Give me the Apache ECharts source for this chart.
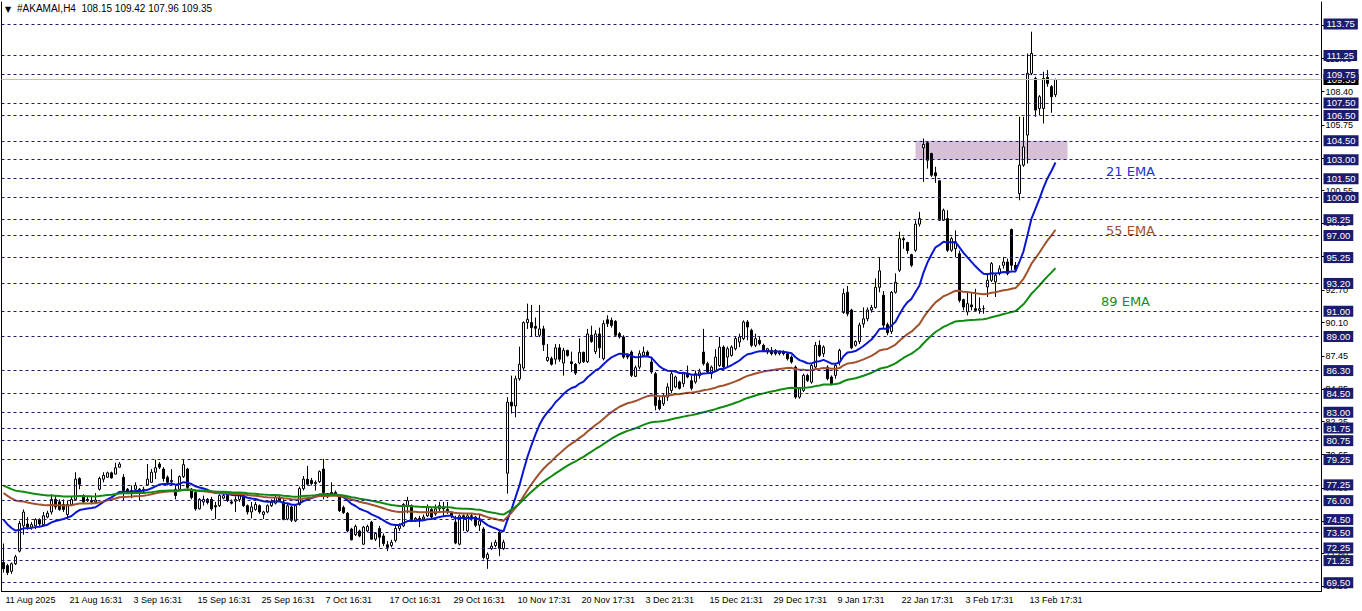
<!DOCTYPE html>
<html><head><meta charset="utf-8">
<script src="https://cdn.jsdelivr.net/npm/echarts@6/dist/echarts.min.js"></script>
<style>html,body{margin:0;padding:0;background:#fff}#c{width:1362px;height:611px}</style>
</head><body><div id="c"></div>
<script>
const titleText = '#AKAMAI,H4  108.15 109.42 107.96 109.35';
const tickLabels = ['11 Aug 2025','21 Aug 16:31','3 Sep 16:31','15 Sep 16:31','25 Sep 16:31','7 Oct 16:31','17 Oct 16:31','29 Oct 16:31','10 Nov 17:31','20 Nov 17:31','3 Dec 21:31','15 Dec 21:31','29 Dec 17:31','9 Jan 17:31','22 Jan 17:31','3 Feb 17:31','13 Feb 17:31'];
const barsPerTick = 16;
const slotCount = 330;
// [open, high, low, close]
const candles = [
[71.1,72.6,70.3,70.6],[70.85,71.0,70.1,70.3],[70.4,71.1,70.2,71.0],[71.0,71.7,70.9,71.55],[72.0,74.4,71.9,74.2],
[74.0,75.3,73.3,75.1],[74.15,74.7,73.7,73.9],[73.9,74.3,73.7,74.1],[74.0,74.6,73.75,74.5],[74.5,74.6,74.0,74.15],
[74.1,75.1,74.0,74.8],[74.7,75.2,74.6,75.0],[75.1,76.5,74.9,76.1],[76.1,76.4,75.3,75.5],[75.9,76.1,75.2,75.3],
[75.7,76.1,75.1,75.3],[74.9,76.0,74.55,75.7],[75.7,76.3,75.6,76.1],[76.1,78.25,76.0,77.7],[77.75,77.85,76.9,77.3],
[76.4,76.5,75.8,75.9],[76.1,76.3,75.9,76.0],[76.0,76.3,75.7,75.9],[75.9,76.6,75.8,76.05],[76.9,77.9,76.8,77.75],
[77.7,78.25,77.45,78.0],[77.85,78.3,77.8,78.2],[78.2,78.3,77.75,77.8],[78.1,79.0,78.1,78.6],[78.65,79.05,78.6,78.9],
[77.85,78.1,76.0,76.8],[76.9,77.0,76.6,76.7],[76.6,77.2,76.2,76.8],[76.9,77.45,76.7,77.2],[76.9,77.0,76.0,76.8],
[76.8,77.1,76.6,76.9],[77.25,78.9,77.2,77.7],[77.45,78.5,77.4,78.25],[78.25,79.25,77.7,78.6],[78.9,79.05,78.5,78.65],
[78.5,78.65,77.5,77.75],[77.85,78.0,77.2,77.45],[77.5,78.5,77.2,77.6],[76.9,77.2,76.1,76.4],[76.9,78.0,76.8,77.9],
[77.9,79.3,77.8,78.85],[78.5,78.6,76.9,77.05],[76.9,77.0,76.1,76.25],[76.65,76.8,75.2,75.35],[75.35,76.2,75.3,76.1],
[75.9,76.4,75.6,76.1],[76.1,76.2,75.7,75.85],[76.1,76.3,75.2,75.35],[75.6,75.9,74.55,75.5],[75.6,76.5,75.5,76.4],
[76.2,76.7,76.1,76.4],[76.4,76.5,75.9,76.0],[75.9,76.1,75.7,75.8],[75.95,76.35,75.1,76.1],[76.1,76.5,75.9,76.4],
[76.4,76.5,75.5,75.6],[75.6,75.7,74.9,75.1],[75.1,75.9,74.6,75.5],[75.3,75.9,75.2,75.7],[75.6,75.7,74.95,75.1],
[74.9,75.2,74.55,75.1],[75.1,75.7,75.0,75.6],[75.6,76.1,75.5,75.85],[75.8,76.4,75.7,76.25],[76.25,76.4,75.9,76.0],
[75.9,76.1,74.45,74.5],[74.55,75.8,74.45,75.6],[75.5,75.6,74.3,74.45],[74.4,75.7,74.3,75.6],[75.7,77.1,75.6,76.95],
[76.95,77.95,76.8,77.7],[77.7,78.75,77.2,77.3],[77.6,77.8,77.2,77.35],[77.35,77.6,76.8,77.45],[77.5,78.4,77.4,78.3],
[78.5,79.3,76.1,76.65],[76.55,76.6,76.2,76.3],[76.5,77.45,76.4,76.65],[76.65,76.8,76.4,76.55],[76.4,76.5,75.1,75.2],
[75.45,75.6,74.95,75.05],[75.0,75.1,73.5,73.6],[73.75,73.85,72.85,72.9],[73.3,74.1,73.2,73.95],[73.6,73.7,73.1,73.2],
[72.55,74.0,72.5,73.9],[73.6,74.1,73.5,73.95],[74.3,74.4,72.9,72.95],[72.95,73.5,72.8,73.4],[73.8,74.0,72.3,73.1],
[73.2,73.4,72.4,72.6],[72.5,72.8,72.0,72.3],[72.45,72.9,72.3,72.7],[72.85,74.1,72.7,73.8],[73.8,74.2,73.6,74.0],
[74.0,75.8,73.9,75.7],[75.6,76.3,75.0,76.0],[75.6,75.7,74.3,74.4],[74.4,74.7,74.3,74.6],[74.6,74.8,73.9,74.5],
[74.55,74.9,74.4,74.7],[74.8,75.7,74.7,75.45],[75.3,75.4,74.6,74.7],[74.95,75.7,74.8,75.35],[75.35,75.9,75.1,75.6],
[75.5,75.9,74.8,75.35],[75.3,75.9,74.95,75.1],[75.0,75.1,74.6,74.8],[74.3,74.8,72.55,72.65],[72.55,74.9,72.45,74.8],
[74.8,74.9,73.6,74.6],[73.6,74.95,73.5,74.8],[74.8,74.95,74.4,74.75],[74.7,74.8,73.9,74.05],[74.05,74.9,73.6,74.4],
[73.75,73.9,71.35,71.5],[71.4,71.9,70.6,71.75],[72.2,72.7,72.1,72.4],[72.45,72.9,72.3,72.7],[73.5,73.6,71.6,72.2],
[72.2,72.9,72.1,72.7],[78.17,84.2,76.55,83.8],[83.8,85.9,82.9,83.5],[83.5,85.9,82.6,85.65],[85.65,88.2,85.5,86.8],
[86.5,90.2,86.3,90.1],[90.1,91.6,89.6,90.35],[90.1,91.5,89.0,89.7],[89.8,90.5,89.0,89.65],[89.1,91.5,88.95,89.6],
[89.6,89.85,87.85,88.35],[87.1,88.4,87.0,87.35],[87.25,87.4,86.7,86.8],[87.2,88.4,86.8,88.1],[88.1,88.4,87.0,87.2],
[86.9,88.1,85.9,87.9],[87.9,87.95,87.4,87.5],[87.0,87.8,86.2,86.85],[86.8,86.9,85.95,86.1],[86.9,88.85,86.8,87.75],
[87.75,87.8,86.9,87.0],[87.0,89.6,86.9,89.2],[89.1,89.85,88.5,88.6],[87.8,89.5,87.6,89.2],[89.2,89.7,87.3,88.1],
[87.24,90.28,87.11,90.02],[90.33,90.68,89.75,90.02],[90.28,90.5,89.7,89.88],[90.2,90.3,89.0,89.1],[89.22,89.36,88.83,88.96],
[88.96,89.1,87.24,87.37],[87.5,87.6,87.2,87.37],[87.77,87.9,85.79,85.92],[85.84,86.7,85.8,86.53],[86.58,87.9,86.4,87.64],
[87.5,88.2,87.4,87.77],[87.77,87.9,87.4,87.5],[86.98,87.4,86.05,86.19],[86.05,86.19,83.15,83.54],[83.94,84.2,83.15,83.28],
[83.67,84.5,83.5,84.33],[84.2,85.3,83.9,85.0],[84.73,86.2,84.5,86.05],[85.0,85.9,84.9,85.79],[85.4,85.5,84.8,84.9],
[85.26,86.2,85.0,86.05],[86.05,86.7,85.7,85.8],[85.5,85.9,84.73,84.9],[85.4,86.3,85.26,86.05],[85.9,86.45,85.66,86.2],
[87.77,89.6,86.7,86.85],[86.85,87.0,86.05,86.19],[86.05,86.7,85.66,86.58],[86.31,88.0,86.2,87.37],[86.7,88.96,86.6,88.16],
[88.16,88.3,86.45,86.58],[87.37,88.2,86.6,88.03],[87.5,88.3,87.4,88.16],[88.03,88.96,87.9,88.83],[88.56,89.22,88.16,88.96],
[88.83,90.28,88.7,90.15],[90.15,90.3,88.7,89.75],[89.49,89.62,88.16,88.3],[88.3,89.22,88.16,88.83],[88.7,88.96,88.3,88.43],
[88.3,88.43,87.77,87.9],[87.77,88.1,87.6,88.03],[87.9,88.16,87.5,87.64],[87.9,88.0,87.5,87.64],[87.64,87.9,87.5,87.77],
[87.77,87.9,87.5,87.64],[87.64,87.77,87.1,87.24],[87.37,87.5,86.85,86.98],[86.58,86.7,84.07,84.2],[84.2,85.0,84.07,84.86],
[84.73,86.05,84.6,85.92],[85.92,86.05,85.4,85.52],[85.39,86.85,85.26,86.71],[86.58,88.56,86.45,88.3],[88.3,88.7,87.37,87.5],
[87.64,88.3,87.37,88.16],[86.58,86.71,85.52,85.66],[85.79,85.92,85.13,85.26],[85.92,86.85,85.66,86.71],[86.98,88.03,86.71,87.9],
[90.9,92.8,90.8,92.4],[92.5,93.0,90.6,90.8],[91.1,91.2,88.0,88.1],[88.3,88.7,88.2,88.6],[88.6,90.1,88.4,89.9],
[90.0,91.3,89.7,90.4],[90.4,91.3,90.2,91.1],[91.1,91.5,90.9,91.3],[91.3,93.6,91.2,92.9],[92.9,95.3,92.5,94.2],
[92.27,92.6,89.6,89.9],[89.94,90.1,89.1,89.3],[89.4,92.6,89.2,92.5],[92.5,94.0,92.4,93.3],[94.25,97.3,94.1,96.75],
[96.75,96.9,95.95,96.65],[96.45,96.5,95.55,95.8],[95.48,95.55,94.5,94.64],[95.83,98.2,95.7,97.9],[97.9,98.87,97.7,98.34],
[103.94,104.68,101.25,104.21],[104.34,104.42,102.3,102.96],[103.49,103.55,101.64,101.77],[101.96,102.44,101.17,101.72],[101.33,101.4,98.15,98.21],
[98.21,99.13,98.15,99.0],[98.34,99.0,95.7,95.83],[95.83,96.9,95.7,96.75],[95.96,97.4,95.3,96.49],[95.56,95.8,91.7,91.86],
[91.92,92.0,91.07,91.33],[90.94,92.5,90.67,91.6],[91.5,92.5,91.07,91.35],[91.2,92.78,90.94,91.07],[91.07,92.1,90.8,91.2],
[91.2,91.47,90.8,91.2],[92.92,93.98,92.13,93.45],[93.45,94.9,93.32,94.77],[93.32,94.0,92.13,93.85],[93.98,94.64,93.85,94.37],
[94.64,95.3,94.37,94.9],[94.9,95.17,93.85,93.98],[97.47,97.55,94.24,94.64],[94.64,94.9,94.1,94.3],[100.32,106.4,99.79,102.57],
[102.57,106.4,102.44,104.02],[104.95,111.42,102.7,109.84],[109.84,113.14,109.7,111.42],[109.44,109.57,106.4,106.93],[107.06,108.12,106.53,107.99],
[107.06,109.97,105.87,109.44],[109.52,110.1,108.78,109.04],[108.78,108.91,106.72,107.99],[108.15,109.42,107.96,109.35]
];
// horizontal level lines (highlighted labels)
const levels = [113.75,111.25,109.75,107.50,106.50,104.50,103.00,101.50,100.00,98.25,97.00,95.25,93.20,91.00,89.00,86.30,84.50,83.00,81.75,80.75,79.25,77.25,76.00,74.50,73.50,72.25,71.25,69.50];
// regular price-scale ticks
const priceTicks = [113.65,111.00,108.40,105.75,103.15,100.55,97.95,95.35,92.70,90.10,87.45,84.85,82.25,79.65,77.00,74.40,71.80,69.20];
const lastPrice = 109.35;
const zonePrices = [104.50, 103.00];
const zoneBars = [228, 266];
// EMA periods and their values at the first visible bar
const emaPeriods = [21, 55, 89];
const emaStart = [74.5, 76.6, 77.2];
const emaNames = ['21 EMA', '55 EMA', '89 EMA'];

const categories = Array.from({length: slotCount}, (_, i) => String(i));
const closes = candles.map(c => c[3]);
const ohlc = candles.map(c => [c[0], c[3], c[2], c[1]]);
function ema(period, seed) {
  const a = 2 / (period + 1);
  const out = [];
  let e = seed;
  closes.forEach((c, i) => { if (i > 0) e = a * c + (1 - a) * e; out.push(+e.toFixed(3)); });
  return out;
}
const emaColors = ['#0b16d0', '#a0522d', '#118a11'];
const emaSeries = emaPeriods.map((p, k) => ({
  type: 'line', name: emaNames[k], data: ema(p, emaStart[k]), symbol: 'none', z: 4, silent: true,
  lineStyle: {color: emaColors[k], width: 2}
}));

const font = 'Liberation Sans';
const levelLine = {lineStyle: {color: '#1c1c6e', type: [3, 3], width: 1}};
const markData = [{yAxis: lastPrice, lineStyle: {color: '#c0c0c0', type: 'solid', width: 1},
  label: {backgroundColor: '#000', color: '#fff'}}]
  .concat(levels.map(v => Object.assign({yAxis: v}, levelLine)));

const chart = echarts.init(document.getElementById('c'), null, {renderer: 'svg'});
chart.setOption({
  animation: false,
  backgroundColor: '#fff',
  grid: {left: 1.5, right: 40.5, top: 2, bottom: 20},
  xAxis: {
    type: 'category', data: categories, boundaryGap: true,
    axisLine: {lineStyle: {color: '#000', width: 1}},
    axisTick: {interval: barsPerTick - 1, alignWithLabel: true, length: 5, lineStyle: {color: '#000'}},
    axisLabel: {interval: barsPerTick - 1, align: 'left', margin: 4, padding: [0, 0, 0, 2], fontSize: 9, fontFamily: font, color: '#000',
      formatter: (v, i) => (i % barsPerTick === 0 && tickLabels[i / barsPerTick]) ? tickLabels[i / barsPerTick] : ''},
    splitLine: {show: false}
  },
  yAxis: [{
    type: 'value', position: 'right', min: 68.843, max: 115.492, scale: true,
    axisLine: {show: true, lineStyle: {color: '#000', width: 1}},
    axisTick: {show: true, customValues: priceTicks, length: 3, lineStyle: {color: '#000'}},
    axisLabel: {customValues: priceTicks, formatter: v => v.toFixed(2), fontSize: 9, fontFamily: font, color: '#000', margin: 4},
    splitLine: {show: false}
  }, {
    type: 'value', position: 'left', min: 68.843, max: 115.492,
    axisLine: {show: true, onZero: false, lineStyle: {color: '#000', width: 1}},
    axisTick: {show: false}, axisLabel: {show: false}, splitLine: {show: false}
  }],
  series: [{
    type: 'line', name: 'levels', data: closes, symbol: 'none', z: 1, silent: true,
    lineStyle: {width: 0, opacity: 0},
    markLine: {
      silent: true, symbol: ['none', 'none'], animation: false,
      label: {position: 'end', distance: 2, formatter: p => p.value.toFixed(2), backgroundColor: '#1c1c6e', color: '#fff',
        padding: [1, 3, 0, 3], fontSize: 9.5, fontFamily: font},
      data: markData
    },
    markArea: {
      silent: true, itemStyle: {color: '#d8bfd8'},
      data: [[{xAxis: zoneBars[0], yAxis: zonePrices[0]}, {xAxis: zoneBars[1], yAxis: zonePrices[1]}]]
    }
  }, {
    type: 'candlestick', name: 'AKAMAI', data: ohlc, z: 3, barWidth: 3, silent: true,
    itemStyle: {color: '#fff', color0: '#000', borderColor: '#000', borderColor0: '#000', borderWidth: 1}
  }].concat(emaSeries),
  graphic: [
    {type: 'text', left: 5, top: 5, style: {text: '▼', fill: '#000', fontSize: 8, fontFamily: 'DejaVu Sans'}},
    {type: 'text', left: 17, top: 3, style: {text: titleText, fill: '#000', fontSize: 10, fontFamily: font}},
    {type: 'text', left: 1106, top: 165, style: {text: emaNames[0], fill: '#1f2fd0', fontSize: 13, fontFamily: 'DejaVu Sans'}},
    {type: 'text', left: 1106, top: 224, style: {text: emaNames[1], fill: '#a0522d', fontSize: 13, fontFamily: 'DejaVu Sans'}},
    {type: 'text', left: 1101, top: 295, style: {text: emaNames[2], fill: '#1a8c1a', fontSize: 13, fontFamily: 'DejaVu Sans'}}
  ]
});
</script></body></html>
